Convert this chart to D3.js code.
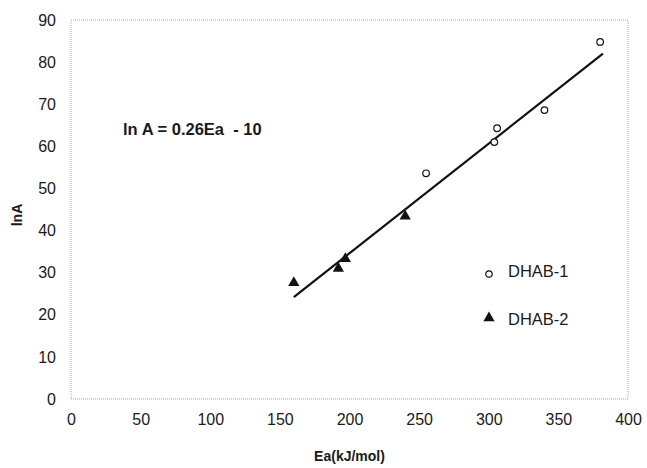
<!DOCTYPE html>
<html lang="en">
  <head>
    <meta charset="UTF-8">
    <title>lnA vs Ea</title>
    <style>
      html,body{ margin:0; padding:0; background:#fff; }
      svg text{ font-family: "Liberation Sans", Arial, sans-serif; fill:#1a1a1a; }
    </style>
  </head>
  <body>
    <div id="chart"></div>
    <script src="https://d3js.org/d3.v7.min.js"></script>
    <script>
      // data
      var dhab1Ea  = [255, 304, 306, 340, 380];
      var dhab1lnA = [53.6, 61, 64.3, 68.6, 84.8];
      var dhab2Ea  = [160, 192, 197, 240];
      var dhab2lnA = [27.6, 31, 33.3, 43.4];
      var fitEa  = [160, 382];
      var fitlnA = [24.2, 82];
      var xTicks = [0, 50, 100, 150, 200, 250, 300, 350, 400];
      var yTicks = [0, 10, 20, 30, 40, 50, 60, 70, 80, 90];

      var W = 647, H = 468;
      var m = {left: 71, right: 19, top: 20, bottom: 69};

      var svg = d3.select("#chart").append("svg")
        .attr("width", W).attr("height", H);

      var x = d3.scaleLinear().domain([0, 400]).range([m.left, W - m.right]);
      var y = d3.scaleLinear().domain([0, 90]).range([H - m.bottom, m.top]);

      // faint dotted frame
      svg.append("rect")
        .attr("x", x(0)).attr("y", y(90))
        .attr("width", x(400) - x(0)).attr("height", y(0) - y(90))
        .attr("fill", "none").attr("stroke", "#999")
        .attr("stroke-width", 0.8).attr("stroke-dasharray", "1,1");

      // axes (labels only, no tick marks)
      var xAxis = svg.append("g")
        .attr("transform", "translate(0," + (y(0) + 15) + ")")
        .call(d3.axisBottom(x).tickValues(xTicks).tickSize(0).tickPadding(0));
      xAxis.select(".domain").remove();
      xAxis.selectAll("text").attr("dy", "0.71em");

      var yAxis = svg.append("g")
        .attr("transform", "translate(" + (x(0) - 15) + ",0)")
        .call(d3.axisLeft(y).tickValues(yTicks).tickSize(0).tickPadding(0));
      yAxis.select(".domain").remove();
      svg.selectAll(".tick text")
        .style("fill", "#1a1a1a")
        .style("font-size", "16px")
        .style("font-family", '"Liberation Sans", Arial, sans-serif');

      // axis titles
      svg.append("text")
        .attr("x", (x(0) + x(400)) / 2).attr("y", 461)
        .attr("text-anchor", "middle")
        .style("font-size", "14px").attr("font-weight", "bold")
        .text("Ea(kJ/mol)");

      svg.append("text")
        .attr("transform", "translate(22,215) rotate(-90)")
        .attr("text-anchor", "middle")
        .style("font-size", "14px").attr("font-weight", "bold")
        .text("lnA");

      // fit line
      var line = d3.line()
        .x(function(d){ return x(d[0]); })
        .y(function(d){ return y(d[1]); });
      svg.append("path")
        .datum(d3.zip(fitEa, fitlnA))
        .attr("d", line)
        .attr("fill", "none").attr("stroke", "#111").attr("stroke-width", 2.2);

      // DHAB-1 open circles
      svg.selectAll(".p1").data(d3.zip(dhab1Ea, dhab1lnA)).enter()
        .append("circle").attr("class", "p1")
        .attr("cx", function(d){ return x(d[0]); })
        .attr("cy", function(d){ return y(d[1]); })
        .attr("r", 3.3)
        .attr("fill", "#fff").attr("stroke", "#111").attr("stroke-width", 1.2);

      // DHAB-2 filled triangles
      var tri = d3.symbol().type(d3.symbolTriangle).size(55);
      svg.selectAll(".p2").data(d3.zip(dhab2Ea, dhab2lnA)).enter()
        .append("path").attr("class", "p2")
        .attr("d", tri)
        .attr("transform", function(d){ return "translate(" + x(d[0]) + "," + y(d[1]) + ")"; })
        .attr("fill", "#111");

      // equation
      svg.append("text")
        .attr("x", 123).attr("y", 135)
        .style("font-size", "16.5px").attr("font-weight", "bold")
        .attr("xml:space", "preserve")
        .text("ln A = 0.26Ea  - 10");

      // legend
      var legend = svg.append("g");
      legend.append("circle")
        .attr("cx", 489).attr("cy", 274).attr("r", 3.2)
        .attr("fill", "#fff").attr("stroke", "#111").attr("stroke-width", 1.2);
      legend.append("text")
        .attr("x", 508).attr("y", 277)
        .style("font-size", "16.5px").text("DHAB-1");
      legend.append("path")
        .attr("d", tri)
        .attr("transform", "translate(489,318)")
        .attr("fill", "#111");
      legend.append("text")
        .attr("x", 508).attr("y", 325)
        .style("font-size", "16.5px").text("DHAB-2");
    </script>
  </body>
</html>
